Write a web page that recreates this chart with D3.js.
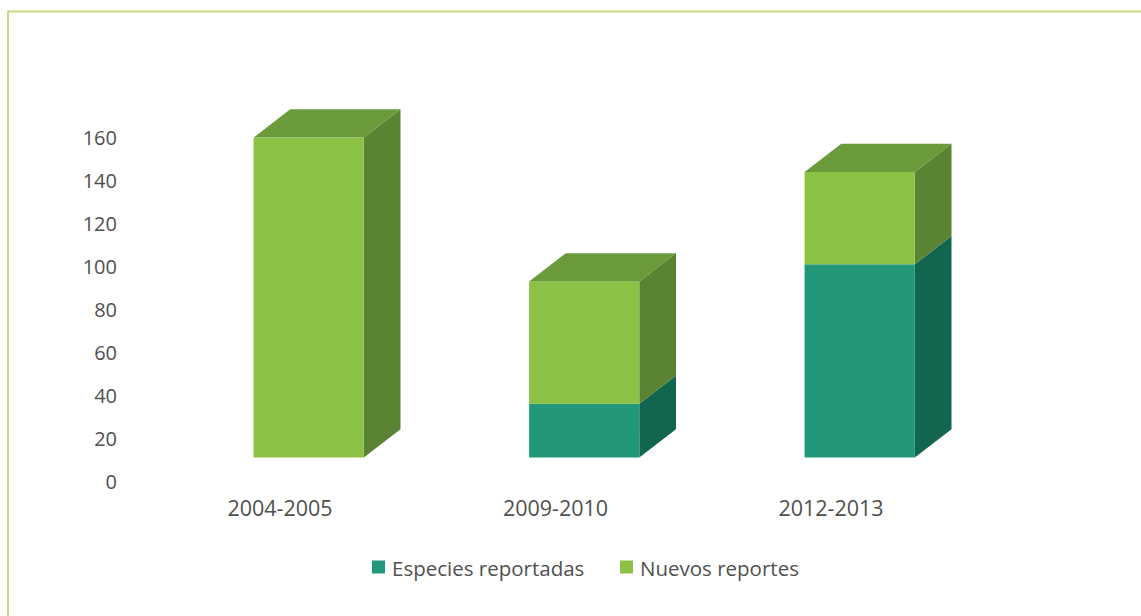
<!DOCTYPE html>
<html>
<head>
<meta charset="utf-8">
<script src="https://cdn.jsdelivr.net/npm/d3@7/dist/d3.min.js"></script>
<style>
  html, body { margin: 0; padding: 0; background: #ffffff; }
  svg { display: block; }
  text { font-family: "Open Sans", "Noto Sans", sans-serif; fill: #505050; }
</style>
</head>
<body>
<svg id="chart" width="1141" height="616"></svg>
<script>
// ---- data ----
const categories = ["2004-2005", "2009-2010", "2012-2013"];
const seriesNames = ["Especies reportadas", "Nuevos reportes"];
const especiesReportadas = [0, 25, 90];
const nuevosReportes = [149, 57, 43];
const yTicks = [0, 20, 40, 60, 80, 100, 120, 140, 160];

// ---- styling ----
const colors = {
  "Especies reportadas": { front: "#22977a", side: "#126650", top: "#1b7f65" },
  "Nuevos reportes":     { front: "#8bc144", side: "#5a8334", top: "#6a9a3a" }
};

const svg = d3.select("#chart");

// frame (only top and left edges visible)
svg.append("line").attr("x1", 8).attr("x2", 1141).attr("y1", 11.5).attr("y2", 11.5)
  .attr("stroke", "#c9da7c").attr("stroke-width", 2);
svg.append("line").attr("x1", 8).attr("x2", 8).attr("y1", 11).attr("y2", 616)
  .attr("stroke", "#c9da7c").attr("stroke-width", 2);

const y = d3.scaleLinear().domain([0, 160]).range([482, 138.5]);
const x = d3.scaleBand().domain(categories).range([142.25, 968.75])
  .paddingInner(0.6).paddingOuter(0.3);

// oblique projection offsets
const offX = 28.7, offY = -24.5;   // bars sit partially back from the axis plane
const depthX = 36.7, depthY = -28.3; // bar depth

// y axis
const yAxis = svg.append("g").attr("transform", "translate(117,0)")
  .call(d3.axisLeft(y).tickValues(yTicks).tickSize(0).tickPadding(0));
yAxis.select(".domain").remove();
yAxis.selectAll("text").style("font-size", "20px").attr("fill", "#505050")
  .style("font-family", "'Open Sans', sans-serif");

// x axis
const xAxis = svg.append("g").attr("transform", "translate(0,501)")
  .call(d3.axisBottom(x).tickSize(0).tickPadding(0));
xAxis.select(".domain").remove();
xAxis.selectAll("text").style("font-size", "21.5px").attr("fill", "#505050")
  .style("font-family", "'Open Sans', sans-serif");

// stacked data
const table = categories.map((c, i) => ({
  cat: c,
  "Especies reportadas": especiesReportadas[i],
  "Nuevos reportes": nuevosReportes[i]
}));
const stack = d3.stack().keys(seriesNames)(table);

const bars = svg.append("g");
const bw = x.bandwidth();

categories.forEach((c, i) => {
  const x0 = x(c) + offX, x1 = x0 + bw;
  let topKey = null;
  stack.forEach(s => { if (s[i][1] > s[i][0]) topKey = s.key; });
  stack.forEach(s => {
    const v0 = s[i][0], v1 = s[i][1];
    if (v1 <= v0) return;
    const yb = y(v0) + offY, yt = y(v1) + offY;
    const col = colors[s.key];
    // side face
    bars.append("path")
      .attr("d", d3.line()([[x1, yt], [x1 + depthX, yt + depthY], [x1 + depthX, yb + depthY], [x1, yb]]) + "Z")
      .attr("fill", col.side);
    // front face
    bars.append("rect").attr("x", x0).attr("y", yt).attr("width", bw).attr("height", yb - yt)
      .attr("fill", col.front);
    // top face
    if (s.key === topKey) {
      bars.append("path")
        .attr("d", d3.line()([[x0, yt], [x0 + depthX, yt + depthY], [x1 + depthX, yt + depthY], [x1, yt]]) + "Z")
        .attr("fill", col.top);
    }
  });
});

// legend
const legendItems = [
  { name: "Especies reportadas", x: 372 },
  { name: "Nuevos reportes", x: 620 }
];
const lg = svg.append("g");
legendItems.forEach(d => {
  lg.append("rect").attr("x", d.x).attr("y", 560.5).attr("width", 13).attr("height", 13)
    .attr("fill", colors[d.name].front);
  lg.append("text").attr("x", d.x + 20).attr("y", 576)
    .style("font-size", "20.5px").text(d.name);
});
</script>
</body>
</html>
